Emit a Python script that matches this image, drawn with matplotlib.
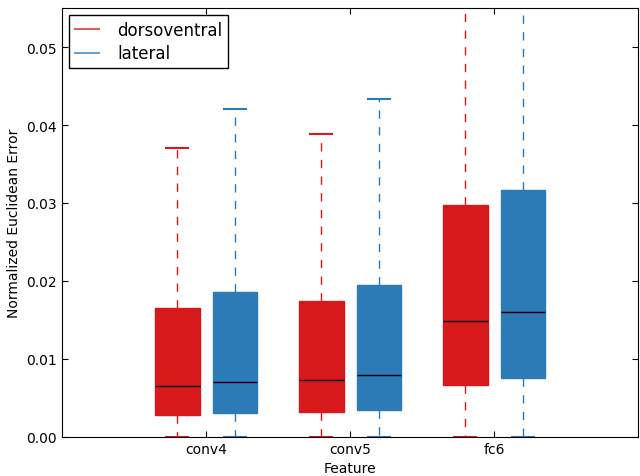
import numpy as np
import matplotlib
matplotlib.use('Agg')
from matplotlib import pyplot as plt

# 読み取った箱ひげ図の統計値
features = ['conv4', 'conv5', 'fc6']
groups = ['dorsoventral', 'lateral']
colors = ['#d7191c', '#2c7bb6']

dv_q1 = [0.0028, 0.0032, 0.0067]
dv_med = [0.0065, 0.0073, 0.0148]
dv_q3 = [0.0165, 0.0174, 0.0297]
dv_lo = [0.0, 0.0, 0.0]
dv_hi = [0.0371, 0.0388, 0.0600]

lat_q1 = [0.0030, 0.0035, 0.0075]
lat_med = [0.0071, 0.0080, 0.0160]
lat_q3 = [0.0186, 0.0195, 0.0317]
lat_lo = [0.0, 0.0, 0.0]
lat_hi = [0.0420, 0.0433, 0.0600]

plt.rcParams['xtick.direction'] = 'in'
plt.rcParams['ytick.direction'] = 'in'
plt.rcParams['xtick.top'] = True
plt.rcParams['ytick.right'] = True
plt.rcParams['xtick.major.size'] = 4
plt.rcParams['ytick.major.size'] = 4

fig, ax = plt.subplots(figsize=(6.4, 4.77), dpi=100)

series = [(dv_q1, dv_med, dv_q3, dv_lo, dv_hi),
          (lat_q1, lat_med, lat_q3, lat_lo, lat_hi)]
offsets = [-0.2, 0.2]
for k, (q1, med, q3, lo, hi) in enumerate(series):
    stats = []
    for i in range(len(features)):
        stats.append({'q1': q1[i], 'med': med[i], 'q3': q3[i],
                      'whislo': lo[i], 'whishi': hi[i], 'fliers': []})
    pos = np.arange(1, len(features) + 1) + offsets[k]
    c = colors[k]
    ax.bxp(stats, positions=pos, widths=0.31, patch_artist=True,
           showfliers=False,
           boxprops=dict(facecolor=c, edgecolor=c, linewidth=1),
           whiskerprops=dict(color=c, linestyle=(0, (6, 6)), linewidth=1),
           capprops=dict(color=c, linewidth=1.5),
           medianprops=dict(color='black', linewidth=1))
    ax.plot([], c=c, alpha=0.7, label=groups[k])

ax.set_xlim(0, 4)
ax.set_ylim(0, 0.055)
ax.set_xticks([1, 2, 3])
ax.set_xticklabels(features)
ax.set_yticks(np.arange(0, 0.051, 0.01))
ax.set_yticklabels(['%.2f' % v for v in np.arange(0, 0.051, 0.01)])
ax.set_xlabel('Feature')
ax.set_ylabel('Normalized Euclidean Error')
leg = ax.legend(loc='upper left', fontsize=12, fancybox=False, framealpha=1,
                handlelength=1.45, handletextpad=1.1, labelspacing=0.35,
                borderpad=0.35, borderaxespad=0.4)
leg.get_frame().set_edgecolor('black')
plt.subplots_adjust(left=0.097, right=0.997, top=0.981, bottom=0.082)
plt.savefig('out.png')
